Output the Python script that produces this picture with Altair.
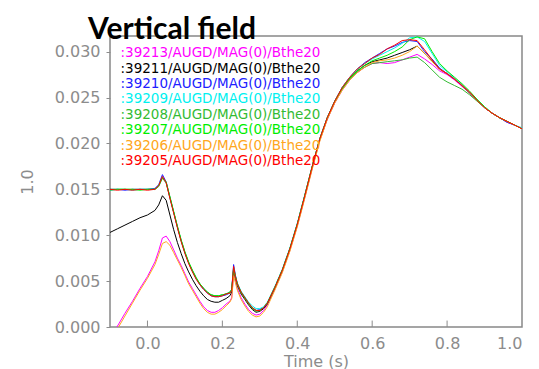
import altair as alt
import pandas as pd

T = [-0.10, -0.08, -0.06, -0.04, -0.02, 0.00, 0.02, 0.03, 0.04, 0.05,
     0.06, 0.07, 0.08, 0.09, 0.10, 0.11, 0.12, 0.13, 0.14, 0.15,
     0.16, 0.17, 0.18, 0.19, 0.20, 0.21, 0.22, 0.225, 0.23, 0.235,
     0.24, 0.25, 0.26, 0.27, 0.28, 0.29, 0.30, 0.31, 0.32, 0.34,
     0.36, 0.38, 0.40, 0.42, 0.44, 0.46, 0.48, 0.50, 0.52, 0.54,
     0.56, 0.58, 0.60, 0.62, 0.64, 0.66, 0.68, 0.70, 0.72, 0.74,
     0.76, 0.78, 0.80, 0.82, 0.84, 0.86, 0.88, 0.90, 0.92, 0.94,
     0.96, 0.98, 1.00]

S39213 = [-0.0013, 0.0001, 0.0015, 0.0028, 0.0042, 0.0055, 0.0071, 0.0083, 0.0097, 0.0099,
          0.0093, 0.0084, 0.0075, 0.0067, 0.0058, 0.0049, 0.0042, 0.0035, 0.0028, 0.0022,
          0.0018, 0.0016, 0.0016, 0.0018, 0.0021, 0.0025, 0.0028, 0.0032, 0.0058, 0.0050,
          0.0042, 0.0032, 0.0025, 0.0019, 0.0015, 0.0013, 0.0014, 0.0018, 0.0024, 0.0041,
          0.0060, 0.0083, 0.0110, 0.0141, 0.0173, 0.0203, 0.0226, 0.0244, 0.0258, 0.0269,
          0.0277, 0.0283, 0.0287, 0.0288, 0.0287, 0.0288, 0.0291, 0.0294, 0.0297, 0.0292,
          0.0286, 0.0279, 0.0275, 0.0269, 0.0262, 0.0255, 0.0247, 0.0239, 0.0233, 0.0228,
          0.0223, 0.0220, 0.0216]

S39211 = [0.0103, 0.0107, 0.0111, 0.0115, 0.0119, 0.0122, 0.0127, 0.0133, 0.0143, 0.0138,
          0.0122, 0.0106, 0.0092, 0.0080, 0.0069, 0.0060, 0.0052, 0.0045, 0.0039, 0.0034,
          0.0030, 0.0028, 0.0027, 0.0027, 0.0029, 0.0031, 0.0034, 0.0038, 0.0062, 0.0053,
          0.0045, 0.0036, 0.0030, 0.0024, 0.0019, 0.0016, 0.0017, 0.0020, 0.0025, 0.0042,
          0.0061, 0.0084, 0.0111, 0.0142, 0.0174, 0.0204, 0.0227, 0.0245, 0.0260, 0.0271,
          0.0279, 0.0285, 0.0289, 0.0291, 0.0293, 0.0296, 0.0299, 0.0302, 0.0306, 0.0298,
          0.0290, 0.0281, 0.0276, 0.0270, 0.0263, 0.0255, 0.0247, 0.0239, 0.0233, 0.0228,
          0.0224, 0.0220, 0.0216]

S39210 = [0.0150, 0.0150, 0.0149, 0.0150, 0.0150, 0.0150, 0.0151, 0.0155, 0.0166, 0.0158,
          0.0141, 0.0125, 0.0109, 0.0094, 0.0081, 0.0070, 0.0061, 0.0053, 0.0046, 0.0041,
          0.0037, 0.0034, 0.0033, 0.0033, 0.0034, 0.0035, 0.0037, 0.0041, 0.0068, 0.0056,
          0.0047, 0.0038, 0.0032, 0.0026, 0.0021, 0.0018, 0.0019, 0.0021, 0.0026, 0.0043,
          0.0062, 0.0085, 0.0112, 0.0143, 0.0175, 0.0205, 0.0228, 0.0246, 0.0261, 0.0272,
          0.0281, 0.0288, 0.0293, 0.0298, 0.0303, 0.0306, 0.0310, 0.0312, 0.0311, 0.0300,
          0.0292, 0.0282, 0.0276, 0.0270, 0.0263, 0.0255, 0.0247, 0.0239, 0.0233, 0.0228,
          0.0223, 0.0220, 0.0216]

S39209 = [0.0149, 0.0150, 0.0150, 0.0149, 0.0150, 0.0150, 0.0150, 0.0154, 0.0163, 0.0157,
          0.0141, 0.0125, 0.0109, 0.0094, 0.0081, 0.0070, 0.0061, 0.0053, 0.0047, 0.0042,
          0.0038, 0.0035, 0.0034, 0.0034, 0.0035, 0.0036, 0.0038, 0.0041, 0.0065, 0.0056,
          0.0048, 0.0039, 0.0033, 0.0027, 0.0023, 0.0020, 0.0020, 0.0022, 0.0027, 0.0044,
          0.0063, 0.0086, 0.0113, 0.0144, 0.0175, 0.0205, 0.0228, 0.0246, 0.0261, 0.0272,
          0.0281, 0.0287, 0.0292, 0.0296, 0.0300, 0.0304, 0.0309, 0.0315, 0.0316, 0.0311,
          0.0298, 0.0285, 0.0278, 0.0271, 0.0264, 0.0256, 0.0248, 0.0240, 0.0233, 0.0228,
          0.0224, 0.0220, 0.0217]

S39208 = [0.0149, 0.0150, 0.0150, 0.0150, 0.0150, 0.0150, 0.0150, 0.0153, 0.0162, 0.0157,
          0.0141, 0.0125, 0.0109, 0.0094, 0.0081, 0.0070, 0.0061, 0.0053, 0.0047, 0.0042,
          0.0038, 0.0035, 0.0034, 0.0034, 0.0035, 0.0036, 0.0037, 0.0040, 0.0063, 0.0054,
          0.0046, 0.0037, 0.0031, 0.0025, 0.0020, 0.0017, 0.0018, 0.0021, 0.0026, 0.0043,
          0.0062, 0.0085, 0.0112, 0.0143, 0.0175, 0.0204, 0.0227, 0.0245, 0.0259, 0.0270,
          0.0278, 0.0283, 0.0287, 0.0288, 0.0289, 0.0290, 0.0291, 0.0293, 0.0294, 0.0288,
          0.0280, 0.0272, 0.0267, 0.0263, 0.0259, 0.0253, 0.0246, 0.0239, 0.0233, 0.0228,
          0.0224, 0.0220, 0.0216]

S39207 = [0.0150, 0.0150, 0.0150, 0.0150, 0.0149, 0.0150, 0.0150, 0.0154, 0.0163, 0.0158,
          0.0142, 0.0126, 0.0110, 0.0095, 0.0082, 0.0071, 0.0062, 0.0054, 0.0047, 0.0042,
          0.0038, 0.0035, 0.0034, 0.0034, 0.0035, 0.0036, 0.0038, 0.0041, 0.0064, 0.0055,
          0.0047, 0.0038, 0.0032, 0.0026, 0.0021, 0.0018, 0.0018, 0.0021, 0.0026, 0.0043,
          0.0062, 0.0085, 0.0112, 0.0143, 0.0175, 0.0205, 0.0228, 0.0246, 0.0260, 0.0271,
          0.0279, 0.0285, 0.0290, 0.0293, 0.0296, 0.0300, 0.0305, 0.0313, 0.0316, 0.0314,
          0.0300, 0.0287, 0.0279, 0.0272, 0.0265, 0.0257, 0.0248, 0.0240, 0.0233, 0.0228,
          0.0224, 0.0220, 0.0216]

S39206 = [-0.0016, -0.0002, 0.0012, 0.0026, 0.0040, 0.0053, 0.0068, 0.0079, 0.0091, 0.0093,
          0.0089, 0.0081, 0.0073, 0.0065, 0.0056, 0.0047, 0.0040, 0.0033, 0.0026, 0.0020,
          0.0016, 0.0014, 0.0014, 0.0016, 0.0019, 0.0023, 0.0027, 0.0031, 0.0056, 0.0048,
          0.0040, 0.0030, 0.0023, 0.0017, 0.0013, 0.0011, 0.0012, 0.0016, 0.0022, 0.0040,
          0.0059, 0.0082, 0.0109, 0.0140, 0.0172, 0.0202, 0.0226, 0.0244, 0.0258, 0.0269,
          0.0277, 0.0283, 0.0288, 0.0290, 0.0291, 0.0293, 0.0296, 0.0300, 0.0306, 0.0298,
          0.0289, 0.0281, 0.0276, 0.0270, 0.0263, 0.0255, 0.0247, 0.0239, 0.0233, 0.0228,
          0.0224, 0.0220, 0.0216]

S39205 = [0.0150, 0.0149, 0.0150, 0.0149, 0.0150, 0.0149, 0.0150, 0.0154, 0.0164, 0.0157,
          0.0140, 0.0124, 0.0108, 0.0093, 0.0080, 0.0069, 0.0060, 0.0052, 0.0046, 0.0041,
          0.0037, 0.0034, 0.0033, 0.0033, 0.0034, 0.0036, 0.0037, 0.0040, 0.0066, 0.0055,
          0.0047, 0.0038, 0.0032, 0.0026, 0.0021, 0.0018, 0.0018, 0.0021, 0.0026, 0.0043,
          0.0062, 0.0085, 0.0112, 0.0143, 0.0175, 0.0205, 0.0228, 0.0246, 0.0261, 0.0272,
          0.0281, 0.0287, 0.0293, 0.0297, 0.0303, 0.0307, 0.0312, 0.0313, 0.0312, 0.0302,
          0.0291, 0.0281, 0.0276, 0.0270, 0.0263, 0.0256, 0.0247, 0.0239, 0.0233, 0.0228,
          0.0224, 0.0220, 0.0216]

NAMES = [":39213/AUGD/MAG(0)/Bthe20", ":39211/AUGD/MAG(0)/Bthe20",
         ":39210/AUGD/MAG(0)/Bthe20", ":39209/AUGD/MAG(0)/Bthe20",
         ":39208/AUGD/MAG(0)/Bthe20", ":39207/AUGD/MAG(0)/Bthe20",
         ":39206/AUGD/MAG(0)/Bthe20", ":39205/AUGD/MAG(0)/Bthe20"]
COLORS = ["#ff00ff", "#000000", "#2020ff", "#00f0f0",
          "#33bb33", "#00ee00", "#ffa620", "#ff0000"]
SERIES = [S39213, S39211, S39210, S39209, S39208, S39207, S39206, S39205]

XTICKS = [0.0, 0.2, 0.4, 0.6, 0.8, 1.0]
YTICKS = [0.000, 0.005, 0.010, 0.015, 0.020, 0.025, 0.030]

rows = []
for name, vals in zip(NAMES, SERIES):
    if len(vals) != len(T):
        raise ValueError(f"{name}: {len(vals)} vs {len(T)}")
    for t, v in zip(T, vals):
        rows.append({"t": t, "v": v, "shot": name})
df = pd.DataFrame(rows)

GREY = "#8c8c8c"
FONT = "DejaVu Sans"

xscale = alt.Scale(domain=[-0.1, 1.0], nice=False, zero=False)
yscale = alt.Scale(domain=[0, 0.0317], nice=False)

lines = alt.Chart(df).mark_line(strokeWidth=1, clip=True).encode(
    x=alt.X("t:Q", scale=xscale,
            axis=alt.Axis(values=XTICKS, format=".1f", title="Time (s)",
                          ticks=False, labelPadding=8, titlePadding=2,
                          grid=False, domain=False)),
    y=alt.Y("v:Q", scale=yscale,
            axis=alt.Axis(values=YTICKS, format=".3f", title="1.0",
                          tickSize=4, tickColor=GREY, labelPadding=6,
                          titlePadding=19, grid=False, domain=False)),
    color=alt.Color("shot:N", scale=alt.Scale(domain=NAMES, range=COLORS),
                    legend=alt.Legend(title=None, orient="none", legendX=-3, legendY=10.5,
                                      symbolSize=0, symbolStrokeWidth=0, symbolOpacity=0,
                                      labelOffset=0, labelFont=FONT, labelFontSize=13.5,
                                      labelColor={"expr": "scale('color', datum.value)"},
                                      rowPadding=0.4, labelLimit=400, padding=0)),
)

tick_df = pd.DataFrame({"t": XTICKS[:-1]})
ticks = alt.Chart(tick_df).mark_rule(color=GREY, strokeWidth=1).encode(
    x=alt.X("t:Q", scale=xscale),
    y=alt.datum(0.0),
    y2=alt.datum(0.0007),
)

chart = alt.layer(ticks, lines).properties(
    width=412, height=291,
    background="white",
    autosize=alt.AutoSizeParams(type="none"),
    padding={"left": 110, "top": 36, "right": 17, "bottom": 42},
    title=alt.TitleParams("Vertical field", anchor="start", frame="group",
                          dx=-22, dy=35, offset=2,
                          baseline="alphabetic", font="Lato", fontSize=30,
                          fontWeight="bold", color="black"),
).configure_view(
    stroke="#888888", strokeWidth=1.5
).configure_axis(
    labelFont=FONT, labelFontSize=16, labelColor=GREY,
    titleFont=FONT, titleFontSize=16, titleColor=GREY, titleFontWeight="normal",
)

chart.save("out.html", embed_options={"renderer": "svg", "actions": False})
